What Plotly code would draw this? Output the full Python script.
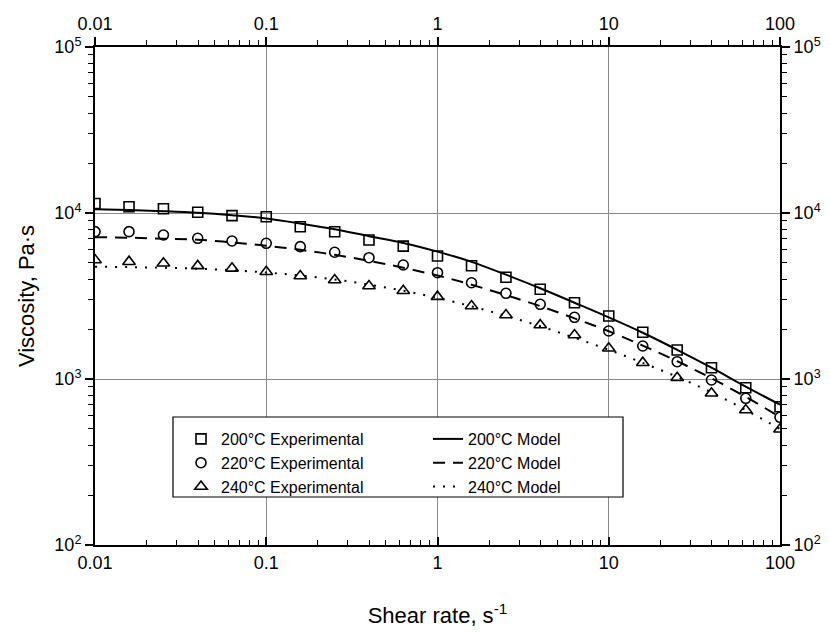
import plotly.graph_objects as go

shear_rate = [0.01, 0.0158, 0.0251, 0.0398, 0.0631, 0.1, 0.158, 0.251, 0.398, 0.631,
              1.0, 1.58, 2.51, 3.98, 6.31, 10.0, 15.8, 25.1, 39.8, 63.1, 100.0]

exp_200 = [11400, 10900, 10600, 10100, 9640, 9500, 8260, 7710, 6870, 6320,
           5510, 4815, 4100, 3470, 2880, 2395, 1911, 1495, 1170, 886, 681]
exp_220 = [7720, 7720, 7370, 7040, 6780, 6570, 6270, 5800, 5380, 4860,
           4370, 3800, 3283, 2818, 2353, 1946, 1580, 1271, 986, 765, 588]
exp_240 = [5210, 5090, 4980, 4800, 4640, 4430, 4170, 3950, 3630, 3400,
           3133, 2754, 2429, 2115, 1841, 1531, 1254, 1018, 820, 651, 498]

model_200 = [10550, 10420, 10250, 10030, 9700, 9280, 8650, 7980, 7250, 6600,
             5850, 5080, 4250, 3520, 2880, 2350, 1900, 1500, 1170, 900, 700]
model_220 = [7150, 7100, 7000, 6900, 6650, 6350, 6000, 5600, 5150, 4680,
             4200, 3700, 3200, 2750, 2320, 1940, 1590, 1280, 1010, 780, 590]
model_240 = [4750, 4720, 4680, 4620, 4520, 4380, 4200, 3980, 3700, 3400,
             3080, 2740, 2400, 2080, 1770, 1500, 1250, 1030, 830, 650, 500]

exp_names = ["200°C Experimental", "220°C Experimental", "240°C Experimental"]
model_names = ["200°C Model", "220°C Model", "240°C Model"]

x_tickvals = [0.01, 0.1, 1, 10, 100]
x_ticktext = ["0.01", "0.1", "1", "10", "100"]
y_tickvals = [100, 1000, 10000, 100000]
y_ticktext = ["10<sup>2</sup>", "10<sup>3</sup>", "10<sup>4</sup>", "10<sup>5</sup>"]

x_minor = [m * 10 ** e for e in range(-2, 2) for m in range(2, 10)]
y_minor = [m * 10 ** e for e in range(2, 5) for m in range(2, 10)]

FONT = "Liberation Sans, Arial, sans-serif"
BLACK = "black"

fig = go.Figure()

symbols = ["square-open", "circle-open", "triangle-up-open"]
sizes = [10, 10, 11]
for name, vals, sym, sz in zip(exp_names, [exp_200, exp_220, exp_240], symbols, sizes):
    fig.add_trace(go.Scatter(
        x=shear_rate, y=vals, mode="markers", name=name,
        marker=dict(symbol=sym, size=sz, color=BLACK, line=dict(color=BLACK, width=1.6)),
        legend="legend",
    ))

dashes = ["solid", "12px,8px", "2px,8px"]
for name, vals, dsh in zip(model_names, [model_200, model_220, model_240], dashes):
    fig.add_trace(go.Scatter(
        x=shear_rate, y=vals, mode="lines", name=name,
        line=dict(color=BLACK, width=2, dash=dsh, shape="spline"),
        legend="legend2",
    ))

# empty trace to activate the top/right mirror axes
fig.add_trace(go.Scatter(x=[], y=[], xaxis="x2", yaxis="y2", showlegend=False, hoverinfo="skip"))

common_x = dict(type="log", range=[-2, 2], tickvals=x_tickvals, ticktext=x_ticktext,
                showline=True, linecolor=BLACK, linewidth=2, automargin=False,
                tickfont=dict(family=FONT, size=18, color=BLACK), tickcolor=BLACK,
                ticklen=8, tickwidth=1.5, zeroline=False)
common_y = dict(type="log", range=[2, 5], tickvals=y_tickvals, ticktext=y_ticktext,
                showline=True, linecolor=BLACK, linewidth=2, automargin=False,
                tickfont=dict(family=FONT, size=18, color=BLACK), tickcolor=BLACK,
                ticklen=8, tickwidth=1.5, zeroline=False)

# paper coordinates of the plot area: x 95..780 px, y 47..545 px (page coords)
def px_x(p):
    return (p - 95) / 685.0

def px_y(p):
    return 1 - (p - 47) / 498.0

# the page body has an 8px default margin, so the figure is offset by 8px
fig.update_layout(
    width=822, height=624,
    margin=dict(l=87, r=50, t=39, b=87),
    paper_bgcolor="white", plot_bgcolor="white",
    font=dict(family=FONT, color=BLACK),
    xaxis=dict(**common_x, side="bottom", ticks="inside",
               showgrid=True, gridcolor="#8a8a8a", gridwidth=1,
               minor=dict(tickvals=x_minor, ticks="inside", ticklen=5, tickcolor=BLACK, tickwidth=1.2, showgrid=False),
               title=dict(text="Shear rate, s<sup>-1</sup>", font=dict(family=FONT, size=22, color=BLACK), standoff=36)),
    yaxis=dict(**common_y, side="left", ticks="outside",
               showgrid=True, gridcolor="#8a8a8a", gridwidth=1,
               minor=dict(tickvals=y_minor, ticks="outside", ticklen=5, tickcolor=BLACK, tickwidth=1.2, showgrid=False),
               title=dict(text="Viscosity, Pa·s", font=dict(family=FONT, size=22, color=BLACK), standoff=14)),
    xaxis2=dict(**common_x, overlaying="x", side="top", ticks="outside", showgrid=False,
                minor=dict(tickvals=x_minor, ticks="outside", ticklen=5, tickcolor=BLACK, tickwidth=1.2, showgrid=False)),
    yaxis2=dict(**common_y, overlaying="y", side="right", ticks="outside", showgrid=False, anchor="x2",
                minor=dict(tickvals=y_minor, ticks="outside", ticklen=5, tickcolor=BLACK, tickwidth=1.2, showgrid=False)),
    legend=dict(x=px_x(181), y=px_y(422), xanchor="left", yanchor="top", bgcolor="rgba(0,0,0,0)",
                font=dict(family=FONT, size=16, color=BLACK), tracegroupgap=0, borderwidth=0),
    legend2=dict(x=px_x(428), y=px_y(422), xanchor="left", yanchor="top", bgcolor="rgba(0,0,0,0)",
                 font=dict(family=FONT, size=16, color=BLACK), tracegroupgap=0, borderwidth=0),
    shapes=[dict(type="rect", xref="paper", yref="paper", x0=px_x(173), x1=px_x(623),
                 y0=px_y(497), y1=px_y(417),
                 line=dict(color=BLACK, width=1.2), fillcolor="white", layer="above")],
    showlegend=True,
)

fig.write_html("out.html")
